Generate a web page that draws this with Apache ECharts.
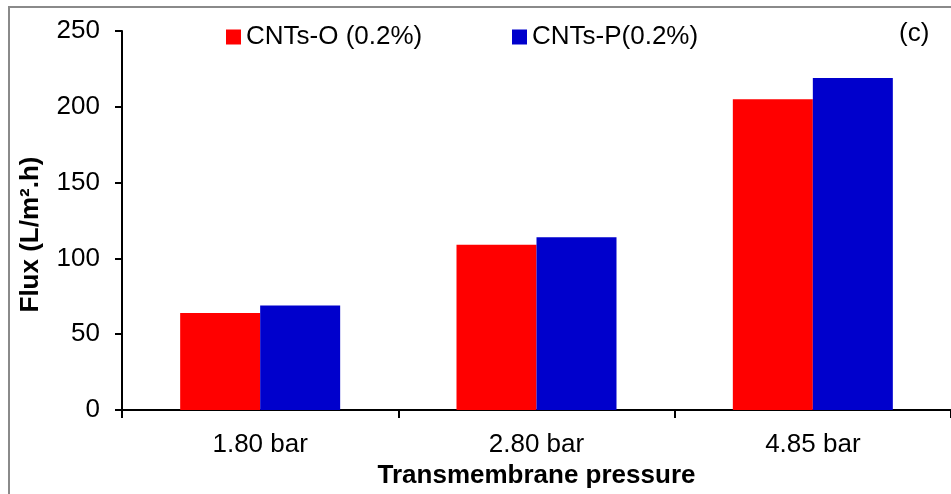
<!DOCTYPE html>
<html>
<head>
<meta charset="utf-8">
<script src="https://cdn.jsdelivr.net/npm/echarts@6/dist/echarts.min.js"></script>
<style>html,body{margin:0;padding:0;background:#fff;}#c{width:951px;height:494px;}</style>
</head>
<body>
<div id="c"></div>
<script>
const categories = ['1.80 bar', '2.80 bar', '4.85 bar'];
const seriesNames = ['CNTs-O (0.2%)', 'CNTs-P(0.2%)'];
const cntsO = [64, 109, 205];
const cntsP = [69, 114, 219];
const yTicks = { min: 0, max: 250, interval: 50 };

const FONT = 'Arial, "Liberation Sans", sans-serif';
const chart = echarts.init(document.getElementById('c'), null, { renderer: 'canvas' });
chart.setOption({
  animation: false,
  backgroundColor: '#fff',
  textStyle: { fontFamily: FONT, color: '#000' },
  grid: { left: 122, right: 0, top: 31, bottom: 84, containLabel: false },
  legend: [
    { data: [seriesNames[0]], left: 226, top: 24, padding: 0, icon: 'rect', itemWidth: 15, itemHeight: 15,
      textStyle: { fontSize: 26, fontFamily: FONT, color: '#000' } },
    { data: [seriesNames[1]], left: 512, top: 24, padding: 0, icon: 'rect', itemWidth: 15, itemHeight: 15,
      textStyle: { fontSize: 26, fontFamily: FONT, color: '#000' } }
  ],
  graphic: [
    { type: 'rect', silent: true, z: 100, shape: { x: 9, y: 7, width: 1000, height: 600 },
      style: { fill: 'none', stroke: '#8a8a8a', lineWidth: 2 } },
    { type: 'text', left: 899, top: 21, style: { text: '(c)', fontSize: 26, fontFamily: FONT, fill: '#000' } }
  ],
  xAxis: {
    type: 'category',
    data: categories,
    name: 'Transmembrane pressure',
    nameLocation: 'middle',
    nameGap: 47,
    nameTextStyle: { fontSize: 26, fontWeight: 'bold', fontFamily: FONT, color: '#000' },
    axisLine: { show: true, lineStyle: { color: '#000', width: 2 } },
    axisTick: { show: true, alignWithLabel: false, length: 8, lineStyle: { color: '#000', width: 2 } },
    axisLabel: { fontSize: 26, color: '#000', margin: 22, fontFamily: FONT },
    splitLine: { show: false }
  },
  yAxis: {
    type: 'value',
    min: yTicks.min, max: yTicks.max, interval: yTicks.interval,
    name: 'Flux (L/m².h)',
    nameLocation: 'middle',
    nameGap: 78,
    nameTextStyle: { fontSize: 26, fontWeight: 'bold', fontFamily: FONT, color: '#000', padding: [0, 28, 0, 0] },
    axisLine: { show: true, lineStyle: { color: '#000', width: 2 } },
    axisTick: { show: true, length: 7, lineStyle: { color: '#000', width: 2 } },
    axisLabel: { fontSize: 26, color: '#000', margin: 22, fontFamily: FONT },
    splitLine: { show: false }
  },
  series: [
    { name: seriesNames[0], type: 'bar', data: cntsO, barWidth: 80, barGap: '0%',
      itemStyle: { color: '#FF0000' } },
    { name: seriesNames[1], type: 'bar', data: cntsP, barWidth: 80, barGap: '0%',
      itemStyle: { color: '#0000CC' } }
  ]
});
</script>
</body>
</html>
